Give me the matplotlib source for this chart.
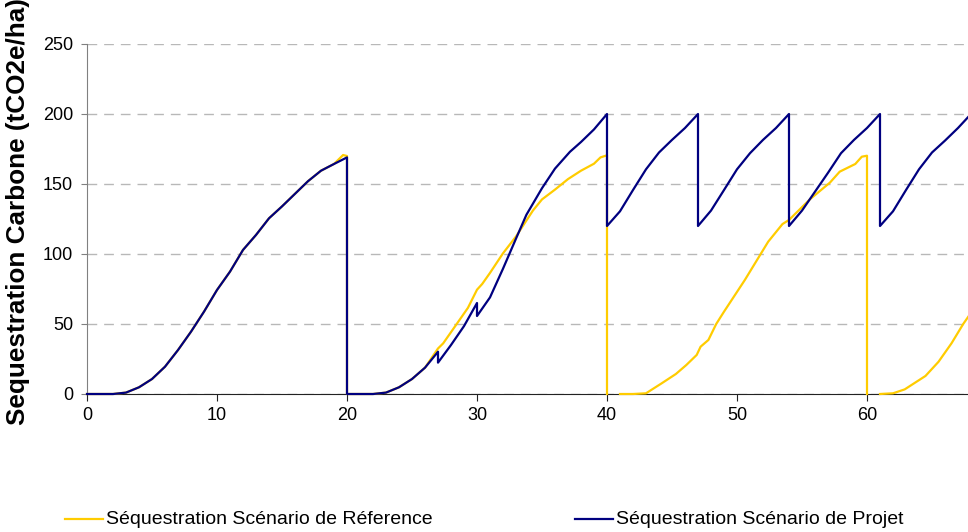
import numpy as np
import matplotlib
matplotlib.use('Agg')
import matplotlib.pyplot as plt
from matplotlib.lines import Line2D

plt.rcParams['font.family'] = ['Liberation Sans', 'DejaVu Sans']

nan = np.nan

# Séquestration Scénario de Réference (yellow)
ref_x = [0, 1, 2, 3, 4, 5, 6, 7, 8, 9, 10, 11, 12, 13, 14, 15, 16, 17, 18, 19, 19.7, 20,
         20, 21, 22, 23, 24, 25, 26, 27, 27.4, 28.4, 29.3, 30, 30.4, 31, 32, 33, 34.3, 35, 36, 37, 38, 39, 39.5, 40,
         40, nan,
         41, 42, 43, 44.2, 45.3, 46.1, 46.9, 47.2, 47.8, 48.4, 49, 50.6, 52.4, 53.5, 54, 55.6, 57.15, 57.9, 59.1, 59.6, 60,
         60, nan,
         61, 62, 62.9, 64.5, 65.5, 66.5, 67.4, 68]
ref_y = [0, 0, 0, 1, 4.8, 10.7, 19.5, 31.4, 44.5, 58.8, 74.3, 87.4, 102.9, 113.6, 125.5, 134, 143, 152, 159.5, 164.3, 170.7, 170,
         0, 0, 0, 1, 4.8, 10.7, 18.8, 32.5, 36.2, 49.5, 61.5, 74.5, 78.6, 86.5, 100.5, 112.5, 131, 139, 146, 153.5, 159.5, 164.5, 169, 170.5,
         0, nan,
         0, 0, 0.5, 7.6, 14.3, 20.7, 27.9, 33.8, 38.6, 50, 58.8, 81.4, 108.8, 121.4, 124.3, 139, 151, 158.8, 164.3, 169.5, 170.2,
         0, nan,
         0, 0.5, 3.3, 12.9, 23, 36.2, 50, 58]

# Séquestration Scénario de Projet (navy)
proj_x = [0, 1, 2, 3, 4, 5, 6, 7, 8, 9, 10, 11, 12, 13, 14, 15, 16, 17, 18, 19, 20,
          20, 21, 22, 23, 24, 25, 26, 27, 27, 28, 29, 30, 30, 31, 32, 33, 33.8, 35, 36, 37.15, 38, 39, 40,
          40, 41, 42, 43, 44, 45, 46, 47,
          47, 48, 49, 50, 51, 52, 53, 54,
          54, 55, 56, 57, 58, 59, 60, 61,
          61, 62, 63, 64, 65, 66, 67, 68]
proj_y = [0, 0, 0, 1, 4.8, 10.7, 19.5, 31.4, 44.5, 58.8, 74.3, 87.4, 102.9, 113.6, 125.5, 134, 143, 152, 159.5, 164.3, 169,
          0, 0, 0, 1, 4.8, 10.7, 18.8, 30.2, 22.4, 35, 48.5, 65, 55.7, 69, 89.5, 111, 128, 147, 161, 173, 180, 189, 200,
          120, 130.5, 145.7, 160.5, 172.5, 181.5, 190, 200,
          120, 131, 145.7, 160.5, 172, 181.5, 190, 200,
          120, 131, 144.5, 158, 172, 181.5, 190, 200,
          120, 130.5, 145.7, 160.5, 172.5, 181, 190, 200]

ref_label = 'Séquestration Scénario de Réference'
proj_label = 'Séquestration Scénario de Projet'
yellow = '#FFCC00'
navy = '#000080'

W, H = 968, 532
fig = plt.figure(figsize=(W / 100, H / 100), dpi=100)
ax = fig.add_axes([87 / W, (H - 394) / H, (W - 87) / W, 350 / H])

ax.plot(ref_x, ref_y, color=yellow, lw=1.6, clip_on=False, zorder=3)
ax.plot(proj_x, proj_y, color=navy, lw=1.6, clip_on=False, zorder=4)

ax.set_xlim(0, (W - 87) / 13)
ax.set_ylim(0, 250)
ax.set_xticks(range(0, 61, 10))
ax.set_yticks(range(0, 251, 50))
ax.yaxis.grid(True, color='#b8b8b8', linestyle=(0, (7, 5)), lw=1)
ax.set_axisbelow(True)
for s in ['top', 'right']:
    ax.spines[s].set_visible(False)
ax.spines['left'].set_color('#808080')
ax.spines['bottom'].set_color('#222222')
ax.tick_params(axis='y', length=4, pad=6, labelsize=13, color='#808080')
ax.tick_params(axis='x', length=5, pad=4, labelsize=13, color='#222222')

fig.text(18 / W, 1 - 212 / H, 'Sequestration Carbone (tCO2e/ha)', rotation=90,
         ha='center', va='center', fontsize=18.8, fontweight='bold')

# legend below the plot
y_leg = 1 - 519 / H
fig.add_artist(Line2D([65 / W, 103 / W], [y_leg, y_leg], color=yellow, lw=1.6))
fig.text(106 / W, y_leg, ref_label, ha='left', va='center', fontsize=14)
fig.add_artist(Line2D([575 / W, 613 / W], [y_leg, y_leg], color=navy, lw=1.6))
fig.text(616 / W, y_leg, proj_label, ha='left', va='center', fontsize=14)

fig.savefig('out.png', dpi=100)
